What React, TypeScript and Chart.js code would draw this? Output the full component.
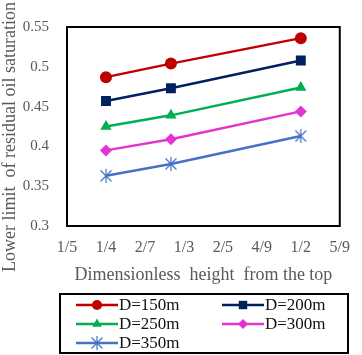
import React, { useEffect, useRef } from 'react';
import { Chart, registerables } from 'chart.js';

Chart.register(...registerables);

const xValues = [1 / 4, 1 / 3, 1 / 2];
const seriesNames = ['D=150m', 'D=200m', 'D=250m', 'D=300m', 'D=350m'];
const d150 = [0.487, 0.504, 0.536];
const d200 = [0.457, 0.473, 0.508];
const d250 = [0.425, 0.439, 0.474];
const d300 = [0.395, 0.409, 0.444];
const d350 = [0.363, 0.378, 0.413];
const seriesValues = [d150, d200, d250, d300, d350];
const seriesColors = ['#C00000', '#002060', '#00B050', '#E234D0', '#4472C4'];
const xTickLabels = ['1/5', '1/4', '2/7', '1/3', '2/5', '4/9', '1/2', '5/9'];
const yTickLabels = ['0.3', '0.35', '0.4', '0.45', '0.5', '0.55'];
const xTitle = 'Dimensionless  height  from the top';
const yTitle = 'Lower limit  of residual oil saturation';

const FONT = '"Liberation Serif", "Times New Roman", serif';

function makeStar(color: string, r: number) {
  const c = document.createElement('canvas');
  const s = r * 2 + 2;
  c.width = s;
  c.height = s;
  const ctx = c.getContext('2d')!;
  ctx.strokeStyle = color;
  ctx.lineWidth = 1.2;
  const cx = s / 2;
  const d = r * 0.78;
  ctx.beginPath();
  ctx.moveTo(cx, cx - r);
  ctx.lineTo(cx, cx + r);
  ctx.moveTo(cx - d, cx - d);
  ctx.lineTo(cx + d, cx + d);
  ctx.moveTo(cx + d, cx - d);
  ctx.lineTo(cx - d, cx + d);
  ctx.stroke();
  return c;
}

function drawMarker(ctx: CanvasRenderingContext2D, style: any, color: string, x: number, y: number, r: number) {
  ctx.save();
  ctx.fillStyle = color;
  ctx.beginPath();
  if (style === 'circle') {
    ctx.arc(x, y, r, 0, Math.PI * 2);
    ctx.fill();
  } else if (style === 'rect') {
    const s = Math.SQRT1_2 * r;
    ctx.rect(x - s, y - s, 2 * s, 2 * s);
    ctx.fill();
  } else if (style === 'triangle') {
    for (let k = 0; k < 3; k++) {
      const a = -Math.PI / 2 + (k * 2 * Math.PI) / 3;
      const px = x + Math.cos(a) * r;
      const py = y + Math.sin(a) * r;
      if (k === 0) ctx.moveTo(px, py);
      else ctx.lineTo(px, py);
    }
    ctx.closePath();
    ctx.fill();
  } else if (style === 'rectRot') {
    ctx.moveTo(x, y - r);
    ctx.lineTo(x + r, y);
    ctx.lineTo(x, y + r);
    ctx.lineTo(x - r, y);
    ctx.closePath();
    ctx.fill();
  } else if (style instanceof HTMLCanvasElement) {
    ctx.drawImage(style, x - style.width / 2, y - style.height / 2);
  }
  ctx.restore();
}

const frameAndLegend = {
  id: 'frameAndLegend',
  afterDraw(chart: any) {
    const ctx: CanvasRenderingContext2D = chart.ctx;
    const a = chart.chartArea;
    ctx.save();
    ctx.strokeStyle = '#000';
    ctx.lineWidth = 2;
    ctx.strokeRect(a.left, a.top, a.right - a.left, a.bottom - a.top);

    // y axis title
    ctx.save();
    ctx.translate(10, 137);
    ctx.rotate(-Math.PI / 2);
    ctx.fillStyle = '#595959';
    ctx.font = `18px ${FONT}`;
    ctx.textAlign = 'center';
    ctx.textBaseline = 'middle';
    ctx.fillText(yTitle, 0, 0);
    ctx.restore();

    // legend box
    ctx.strokeRect(60, 294, 288, 59);
    const datasets = chart.data.datasets;
    datasets.forEach((ds: any, i: number) => {
      const col = i % 2;
      const row = Math.floor(i / 2);
      const x0 = col === 0 ? 76 : 222;
      const y = 305 + row * 19;
      ctx.strokeStyle = ds.borderColor;
      ctx.lineWidth = 2.5;
      ctx.beginPath();
      ctx.moveTo(x0, y);
      ctx.lineTo(x0 + 42, y);
      ctx.stroke();
      drawMarker(ctx, ds.pointStyle, ds.borderColor, x0 + 21, y, ds.pointRadius * 0.85);
      ctx.fillStyle = '#111';
      ctx.font = `17px ${FONT}`;
      ctx.textAlign = 'left';
      ctx.textBaseline = 'middle';
      ctx.fillText(ds.label, x0 + 43, y + 1);
    });
    ctx.restore();
  },
};

export default function App() {
  const ref = useRef<HTMLCanvasElement>(null);
  useEffect(() => {
    const styles: any[] = ['circle', 'rect', 'triangle', 'rectRot', makeStar(seriesColors[4], 7)];
    const radii = [6, 7, 6.5, 6, 7];
    const chart = new Chart(ref.current!, {
      type: 'line',
      data: {
        datasets: seriesNames.map((name, i) => ({
          label: name,
          data: xValues.map((x, j) => ({ x, y: seriesValues[i][j] })),
          borderColor: seriesColors[i],
          backgroundColor: seriesColors[i],
          borderWidth: 2.5,
          pointStyle: styles[i],
          pointRadius: radii[i],
          pointBorderWidth: 0,
          pointBackgroundColor: seriesColors[i],
          pointBorderColor: seriesColors[i],
          tension: 0,
        })),
      },
      options: {
        animation: false,
        responsive: false,
        layout: { padding: { left: 0, top: 12, right: 18, bottom: 69 } },
        plugins: { legend: { display: false }, tooltip: { enabled: false } },
        scales: {
          x: {
            type: 'linear',
            min: 0.2,
            max: 0.55,
            grid: { display: false, drawTicks: false },
            border: { display: false },
            ticks: {
              stepSize: 0.05,
              padding: 12,
              color: '#595959',
              font: { family: FONT, size: 16 },
              maxRotation: 0,
              autoSkip: false,
              callback: (_v: any, idx: number) => xTickLabels[idx],
            },
            title: {
              display: true,
              text: xTitle,
              color: '#595959',
              font: { family: FONT, size: 18 },
              padding: 0,
            },
            afterFit: (s: any) => {
              s.height = 60;
            },
          },
          y: {
            type: 'linear',
            min: 0.3,
            max: 0.55,
            grid: { display: false, drawTicks: false },
            border: { display: false },
            ticks: {
              stepSize: 0.05,
              padding: 18,
              color: '#595959',
              font: { family: FONT, size: 15 },
              callback: (_v: any, idx: number) => yTickLabels[idx],
            },
            title: { display: false },
            afterFit: (s: any) => {
              s.width = 67;
            },
          },
        },
      },
      plugins: [frameAndLegend],
    });
    return () => chart.destroy();
  }, []);
  return (
    <div style={{ position: 'fixed', left: 0, top: 0, width: 362, height: 355, background: '#fff' }}>
      <canvas ref={ref} width={362} height={355} />
    </div>
  );
}
